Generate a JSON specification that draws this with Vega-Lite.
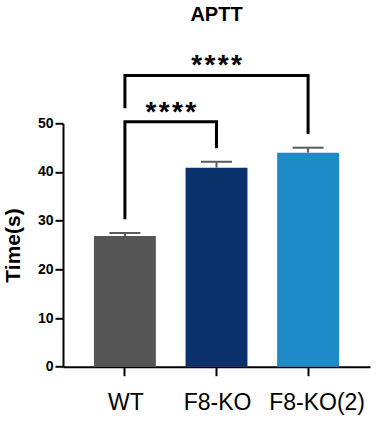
{
  "$schema": "https://vega.github.io/schema/vega-lite/v6.json",
  "width": 307,
  "height": 243.4,
  "autosize": {"type": "none"},
  "padding": {"left": 63, "top": 123.3, "right": 9, "bottom": 58.3},
  "title": {"text": "APTT", "font": "Liberation Sans", "fontSize": 20, "fontWeight": "bold", "color": "black", "anchor": "middle", "offset": 27},
  "config": {"view": {"stroke": null}, "font": "Liberation Sans"},
  "datasets": {
    "bars": [
      {"group": "WT", "mean": 26.85, "upper": 27.47},
      {"group": "F8-KO", "mean": 40.88, "upper": 42.1},
      {"group": "F8-KO(2)", "mean": 43.96, "upper": 44.99}
    ],
    "brackets": [
      {"bracket": "b1", "ord": 0, "group": "WT", "value": 30.3},
      {"bracket": "b1", "ord": 1, "group": "WT", "value": 50.3},
      {"bracket": "b1", "ord": 2, "group": "F8-KO", "value": 50.3},
      {"bracket": "b1", "ord": 3, "group": "F8-KO", "value": 44.9},
      {"bracket": "b2", "ord": 0, "group": "WT", "value": 53.1},
      {"bracket": "b2", "ord": 1, "group": "WT", "value": 59.8},
      {"bracket": "b2", "ord": 2, "group": "F8-KO(2)", "value": 59.8},
      {"bracket": "b2", "ord": 3, "group": "F8-KO(2)", "value": 47.8}
    ],
    "stars1": [{"group": "WT", "value": 50.5, "label": "*\u200a*\u200a*\u200a*"}],
    "stars2": [{"group": "F8-KO", "value": 60.2, "label": "*\u200a*\u200a*\u200a*"}]
  },
  "layer": [
    {
      "data": {"name": "bars"},
      "mark": {"type": "bar"},
      "encoding": {
        "x": {
          "field": "group", "type": "nominal", "sort": null,
          "scale": {"domain": ["WT", "F8-KO", "F8-KO(2)"], "paddingInner": 0.324, "paddingOuter": 0.338},
          "axis": {
            "title": null, "labelAngle": 0, "labelFontSize": 23, "labelColor": "black", "labelFont": "Liberation Sans",
            "labelOffset": {"condition": {"test": "datum.value === 'F8-KO(2)'", "value": 9}, "value": 1},
            "domainColor": "black", "domainWidth": 2, "tickColor": "black", "tickWidth": 2, "tickSize": 9, "labelPadding": 16
          }
        },
        "y": {
          "field": "mean", "type": "quantitative",
          "scale": {"domain": [0, 50], "nice": false},
          "axis": {
            "title": "Time(s)", "titleFont": "Liberation Sans", "titleFontSize": 21, "titleFontWeight": "bold", "titleColor": "black", "titlePadding": 14,
            "values": [0, 10, 20, 30, 40, 50], "grid": false,
            "labelFontSize": 14, "labelFontWeight": "bold", "labelColor": "black", "labelFont": "Liberation Sans", "labelPadding": 2,
            "domainColor": "black", "domainWidth": 2, "tickColor": "black", "tickWidth": 2, "tickSize": 8
          }
        },
        "color": {
          "field": "group", "type": "nominal",
          "scale": {"domain": ["WT", "F8-KO", "F8-KO(2)"], "range": ["#555555", "#0b316a", "#1e8bc8"]},
          "legend": null
        }
      }
    },
    {
      "data": {"name": "bars"},
      "mark": {"type": "rule", "color": "#5a5a5a", "strokeWidth": 2},
      "encoding": {
        "x": {"field": "group", "type": "nominal", "sort": null},
        "y": {"field": "mean", "type": "quantitative"},
        "y2": {"field": "upper"}
      }
    },
    {
      "data": {"name": "bars"},
      "mark": {"type": "tick", "color": "#5a5a5a", "size": 31, "thickness": 2, "opacity": 1},
      "encoding": {
        "x": {"field": "group", "type": "nominal", "sort": null},
        "y": {"field": "upper", "type": "quantitative"}
      }
    },
    {
      "data": {"name": "brackets"},
      "mark": {"type": "line", "color": "black", "strokeWidth": 3, "strokeJoin": "miter", "strokeCap": "butt"},
      "encoding": {
        "x": {"field": "group", "type": "nominal", "sort": null},
        "y": {"field": "value", "type": "quantitative"},
        "detail": {"field": "bracket"},
        "order": {"field": "ord", "type": "quantitative"}
      }
    },
    {
      "data": {"name": "stars1"},
      "mark": {"type": "text", "font": "Liberation Sans", "fontSize": 28, "fontWeight": "bold", "baseline": "alphabetic", "align": "center", "dx": 46, "color": "black"},
      "encoding": {
        "x": {"field": "group", "type": "nominal", "sort": null},
        "y": {"field": "value", "type": "quantitative"},
        "text": {"field": "label"}
      }
    },
    {
      "data": {"name": "stars2"},
      "mark": {"type": "text", "font": "Liberation Sans", "fontSize": 28, "fontWeight": "bold", "baseline": "alphabetic", "align": "center", "color": "black"},
      "encoding": {
        "x": {"field": "group", "type": "nominal", "sort": null},
        "y": {"field": "value", "type": "quantitative"},
        "text": {"field": "label"}
      }
    }
  ]
}
